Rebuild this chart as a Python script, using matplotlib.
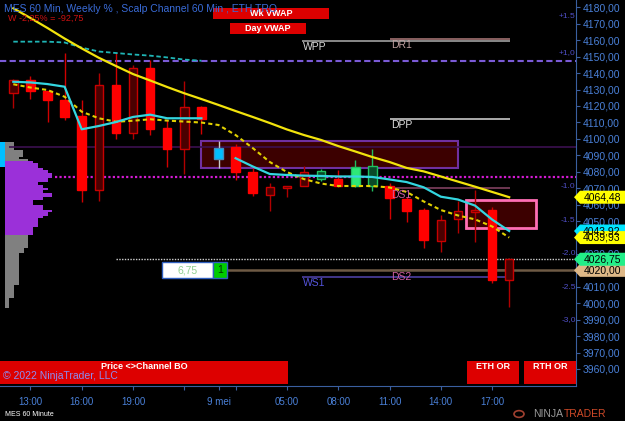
import matplotlib
matplotlib.use("Agg")
import matplotlib.pyplot as plt
from matplotlib.patches import Rectangle, Polygon, Circle
from matplotlib.ticker import FuncFormatter
import numpy as np

plt.rcParams['font.family'] = ['Liberation Sans', 'DejaVu Sans']

# MES 60 min bars
opens  = [4127.75, 4135.5, 4129.0, 4123.5, 4114.0, 4069.0, 4132.5, 4103.5, 4143.0, 4106.5,
          4093.75, 4119.5, 4087.5, 4095.25, 4080.0, 4065.75, 4070.0, 4071.0, 4075.5, 4075.5,
          4071.25, 4083.5, 4071.0, 4063.5, 4056.75, 4038.0, 4051.0, 4055.25, 4057.0, 4014.0]
highs  = [4136.25, 4138.25, 4129.0, 4152.5, 4123.5, 4140.0, 4153.0, 4145.0, 4148.0, 4111.5,
          4135.25, 4120.0, 4098.75, 4096.75, 4082.25, 4073.25, 4071.25, 4083.5, 4081.5, 4081.0,
          4087.0, 4094.0, 4073.0, 4064.75, 4058.0, 4053.75, 4062.25, 4068.75, 4058.75, 4027.5]
lows   = [4118.5, 4124.5, 4110.5, 4111.5, 4061.75, 4062.25, 4100.0, 4100.0, 4102.25, 4083.0,
          4078.5, 4103.0, 4082.5, 4075.0, 4065.5, 4056.0, 4064.75, 4071.0, 4074.5, 4070.75,
          4070.5, 4068.5, 4051.0, 4049.5, 4033.5, 4031.25, 4042.5, 4037.5, 4012.0, 3998.0]
closes = [4135.5, 4129.0, 4123.5, 4113.0, 4069.0, 4132.5, 4103.75, 4143.0, 4105.75, 4093.75,
          4119.5, 4112.0, 4094.5, 4080.0, 4067.0, 4070.5, 4071.25, 4080.0, 4080.5, 4071.25,
          4083.0, 4071.0, 4063.75, 4056.25, 4038.5, 4050.5, 4056.0, 4056.75, 4014.0, 4026.75]
kinds  = ['up', 'dn', 'dn', 'dn', 'dn', 'up', 'dn', 'up', 'dn', 'dn',
          'up', 'dn', 'cy', 'dn', 'dn', 'up', 'up', 'up', 'gd', 'dn',
          'gb', 'gd', 'dn', 'dn', 'dn', 'up', 'up', 'up', 'dn', 'up']

yellow_ma = [4179.4, 4173.5, 4167.4, 4161.0, 4155.0, 4149.3, 4144.3, 4139.4, 4135.5, 4131.5,
             4127.7, 4124.2, 4120.6, 4116.9, 4113.3, 4109.6, 4105.7, 4102.3, 4099.3, 4095.6,
             4092.3, 4088.9, 4085.9, 4082.3, 4080.2, 4077.1, 4074.0, 4070.9, 4067.7, 4064.48]
yellow_dash = [4133.2, 4131.2, 4129.7, 4125.6, 4116.5, 4112.5, 4110.4, 4111.0, 4111.9, 4111.1,
               4110.5, 4109.9, 4108.4, 4102.3, 4094.4, 4085.9, 4079.8, 4075.5, 4072.8, 4071.3,
               4071.3, 4071.3, 4070.4, 4067.7, 4061.9, 4056.7, 4053.4, 4051.0, 4046.7, 4039.93]
cyan_ma = [4134.7, 4134.3, 4133.3, 4131.7, 4105.8, 4107.8, 4110.2, 4113.3, 4114.7, 4112.5,
           4112.5, 4112.5, np.nan, 4088.2, 4083.2, 4078.6, 4078.0, 4077.6, 4077.4, 4077.1,
           4077.1, 4076.8, 4075.3, 4073.7, 4070.5, 4064.8, 4063.1, 4059.4, 4050.9, 4043.92]
wk_vwap = [4159.1, 4159.1, 4159.1, 4158.6, 4155.5, 4153.1, 4152.2, 4151.3, 4150.6, 4149.5,
           4148.2, 4147.5]

wk_line = 4147.5
mag_line = 4077.0
purple_line = 4095.25
last_price = 4026.75
tan_price = 4020.00

zone1 = (10.95, 26.0, 4082.5, 4098.75)
zone2 = (26.45, 30.55, 4045.75, 4062.75)

pivot_names = ['WPP', 'DR1', 'DPP', 'DS1', 'DS2', 'WS1']
pivot_prices = [4159.75, 4161.0, 4112.0, 4070.0, 4020.0, 4016.0]
pivot_start = [16.87, 22.03, 22.03, 22.0, 22.0, 16.87]
pivot_end = 29.05
pivot_line_col = ['#a0a0a0', '#a07070', '#c8c8c8', '#804060', '#804060', '#4b3fa0']
pivot_text_col = ['#d8d8d8', '#c0a0a0', '#e0e0e0', '#d060a0', '#d060a0', '#5555dd']

# volume profile (left)
vp_edges = [4098.25, 4093.2, 4089.1, 4087.7, 4086.7, 4085.1, 4084.1, 4082.1, 4081.0, 4079.0,
            4076.0, 4073.9, 4071.9, 4069.9, 4068.9, 4066.9, 4064.8, 4062.8, 4059.7, 4056.7,
            4055.7, 4053.05, 4051.65, 4046.55, 4044.5, 4041.5, 4033.6, 4030.5, 4011.1, 4003.0,
            3996.9]
vp_vol = [9.3, 18.3, 14, 23.3, 28.3, 32.7, 33.3, 37.7, 42.7, 46.7,
          42.7, 33.3, 37.7, 42.7, 37.7, 47.3, 37.7, 28.3, 37.7, 47.3,
          42.7, 37.7, 33.3, 28.3, 27.7, 23.3, 19, 14, 9.3, 4]
vp_value_area = [0] * 4 + [1] * 21 + [0] * 5

pct_labels = ['+1.5', '+1,0', '-1.0', '-1.5', '-2.0', '-2.5', '-3,0']
pct_prices = [4174.3, 4152.7, 4070.9, 4050.2, 4030.0, 4009.4, 3989.8]

tick_pos = [1, 4, 7, 10, 12, 13, 16, 19, 22, 25, 28]
tick_lab = ['13:00', '16:00', '19:00', '', '9 mei', '', '05:00', '08:00', '11:00', '14:00', '17:00']

tag_prices = [4064.48, 4043.92, 4039.93, 4020.00, 4026.75]
tag_colors = ['#ffff00', '#00e5ff', '#ffff00', '#deb887', '#22ee88']

# ---------------------------------------------------------------------
W, H = 625, 421
AX_W, AX_H = 576, 386
BAR_PX = 17.1
x0_lim = -13.3 / BAR_PX
x1_lim = (AX_W - 13.3) / BAR_PX

fig = plt.figure(figsize=(W / 100, H / 100), dpi=100, facecolor='black')
ax = fig.add_axes([0, (H - AX_H) / H, AX_W / W, AX_H / H], facecolor='black')
ax.set_xlim(x0_lim, x1_lim)
ax.set_ylim(3949.65, 4184.44)

x = np.arange(len(opens))
o = np.array(opens); c = np.array(closes)

style = {
    'dn': ('#ff0000', '#ff0000', '#d00000'),
    'up': ('#4a0000', '#c80000', '#b00000'),
    'cy': ('#00bfff', '#4090c0', '#c8c8c8'),
    'gd': ('#0a4a28', '#20c060', '#20c060'),
    'gb': ('#2ee878', '#20c060', '#20c060'),
}
fc = [style[k][0] for k in kinds]
ec = [style[k][1] for k in kinds]
wc = [style[k][2] for k in kinds]

ax.vlines(x, lows, highs, colors=wc, lw=1, zorder=3)
ax.bar(x, np.maximum(np.abs(c - o), 0.6), bottom=np.minimum(o, c), width=0.5,
       color=fc, edgecolor=ec, linewidth=1, zorder=4)

# zones
for (a, b, lo, hi), edge, lw in [(zone1, '#7030a0', 1.5), (zone2, '#ff6eb4', 2)]:
    ax.add_patch(Rectangle((a, lo), b - a, hi - lo, facecolor='#3c0000',
                           edgecolor=edge, lw=lw, zorder=1))

# horizontal levels
ax.axhline(wk_line, color='#7a5ad6', lw=1.5, ls=(0, (3, 1.6)), zorder=2)
ax.hlines(purple_line, -0.26, x1_lim, color='#3c1050', lw=1.2, zorder=1.5)
ax.hlines(mag_line, 2.44, x1_lim, color='#d41ad4', lw=1.6, ls=(0, (1, 1)), zorder=2)
ax.hlines(last_price, 6.0, x1_lim, color='#d0d0d0', lw=1, ls=(0, (1, 1)), zorder=2)

for name, p, s, lc, tc in zip(pivot_names, pivot_prices, pivot_start, pivot_line_col, pivot_text_col):
    ax.hlines(p, s, pivot_end, color=lc, lw=1.2, zorder=2)
    ax.annotate(name, (s, p), xytext=(1, -4.6), textcoords='offset points',
                ha='left', va='center', color=tc, fontsize=7.5, zorder=7)

ax.hlines(tan_price, 12.5, x1_lim, color='#6e5a44', lw=1.8, zorder=2.5)

# moving averages / vwaps
ax.plot(x[:len(wk_vwap)], wk_vwap, color='#1fb5b5', lw=1.3, ls=(0, (2.5, 1.5)), zorder=5)
ax.plot(x, yellow_dash, color='#e0d000', lw=1.5, ls=(0, (2, 1.5)), zorder=6)
ax.plot(x, cyan_ma, color='#33d6e0', lw=1.6, zorder=6)
ax.plot(x, yellow_ma, color='#f2e30c', lw=1.6, zorder=6)

# volume profile
e = np.array(vp_edges)
tops, bots = e[:-1], e[1:]
vp_cols = ['#9b30d9' if v else '#808080' for v in vp_value_area]
ax.barh((tops + bots) / 2, np.array(vp_vol) / BAR_PX, height=tops - bots,
        left=x0_lim + 5 / BAR_PX, color=vp_cols, linewidth=0, zorder=1.2)
ax.barh((4098.25 + 4082.6) / 2, 5 / BAR_PX, height=4098.25 - 4082.6, left=x0_lim,
        color='#00bfff', linewidth=0, zorder=1.2)

# "6,75" widget
ax.add_patch(Rectangle((8.7, 4015.2), 2.98, 9.7, facecolor='white', edgecolor='#3060c0', lw=1, zorder=8))
ax.add_patch(Rectangle((11.68, 4015.2), 0.82, 9.7, facecolor='#00cc00', edgecolor='#3060c0', lw=1, zorder=8))
ax.text(10.19, tan_price, '6,75', color='#8fd08f', fontsize=7.5, ha='center', va='center', zorder=9)
ax.text(12.09, tan_price, '1', color='#003300', fontsize=7.5, ha='center', va='center', zorder=9)

# % labels near price axis
for lab, p in zip(pct_labels, pct_prices):
    ax.text(x1_lim - 0.02, p, lab, color='#5050c8', fontsize=6, ha='right', va='center', zorder=7)

# axes styling
for s in ['top', 'left']:
    ax.spines[s].set_visible(False)
for s in ['right', 'bottom']:
    ax.spines[s].set_color('#3a5fa0')
ax.yaxis.tick_right()
ax.set_yticks(np.arange(3960, 4181, 10))
ax.yaxis.set_major_formatter(FuncFormatter(lambda v, p: f'{v:.2f}'.replace('.', ',')))
ax.tick_params(axis='y', colors='#3a5fa0', labelcolor='#4a80d8', labelsize=7.5, length=3, pad=2)
ax.set_xticks(tick_pos)
ax.set_xticklabels(tick_lab)
ax.tick_params(axis='x', colors='#3a5fa0', labelcolor='#4a80d8', labelsize=7, length=3, pad=5)


def axp(px, py):
    return px / AX_W, 1 - py / AX_H


def button(x0, y0, x1, y1, label, ty=None):
    ax.add_patch(Rectangle(axp(x0, y1), (x1 - x0) / AX_W, (y1 - y0) / AX_H, transform=ax.transAxes,
                           facecolor='#dd0000', edgecolor='none', zorder=8, clip_on=False))
    ty = (y0 + y1) / 2 if ty is None else ty
    ax.text(*axp((x0 + x1) / 2, ty), label, transform=ax.transAxes, color='white',
            fontsize=6.5, fontweight='bold', ha='center', va='center', zorder=9)


button(213, 7.7, 329, 19, 'Wk VWAP')
button(230, 23.3, 306, 34.3, 'Day VWAP')
button(0, 361, 288, 384, 'Price <>Channel BO', ty=366.5)
button(466.7, 361, 519, 384, 'ETH OR', ty=366.5)
button(524.3, 361, 576, 384, 'RTH OR', ty=366.5)

ax.text(*axp(4, 9.5), 'MES 60 Min, Weekly % , Scalp Channel 60 Min , ETH TRO', transform=ax.transAxes,
        color='#3a6cd8', fontsize=7.5, ha='left', va='center', zorder=10)
ax.text(*axp(7.5, 18.5), 'W -2,25% = -92,75', transform=ax.transAxes,
        color='#cc1111', fontsize=6.5, ha='left', va='center', zorder=10)
ax.text(*axp(3, 376), '\u00a9 2022 NinjaTrader, LLC', transform=ax.transAxes,
        color='#8c8cf0', fontsize=7.5, ha='left', va='center', zorder=10)

# price tags on the axis
fig.canvas.draw()
for p, col in zip(tag_prices, tag_colors):
    ypx = ax.transData.transform((0, p))[1]
    yf = ypx / H
    h = 6.5 / H
    pts = [(574 / W, yf), (580 / W, yf - h), (1, yf - h), (1, yf + h), (580 / W, yf + h)]
    fig.add_artist(Polygon(pts, closed=True, transform=fig.transFigure, facecolor=col,
                           edgecolor='none', zorder=5))
    fig.text(602 / W, yf, f'{p:.2f}'.replace('.', ','), color='black', fontsize=7.5,
             ha='center', va='center', zorder=6)

# footer
fig.text(5 / W, 1 - 414 / H, 'MES 60 Minute', color='white', fontsize=5, ha='left', va='center')
fig.add_artist(Circle((519 / W, 1 - 414 / H), 5 / W, transform=fig.transFigure, facecolor='none',
                      edgecolor='#a04030', lw=1.2))
fig.text(563.5 / W, 1 - 414 / H, 'NINJA', color='#9a9a9a', fontsize=7.5, ha='right', va='center')
fig.text(563.5 / W, 1 - 414 / H, 'TRADER', color='#d04a28', fontsize=7.5, ha='left', va='center')

fig.savefig('out.png', dpi=100, facecolor='black')
